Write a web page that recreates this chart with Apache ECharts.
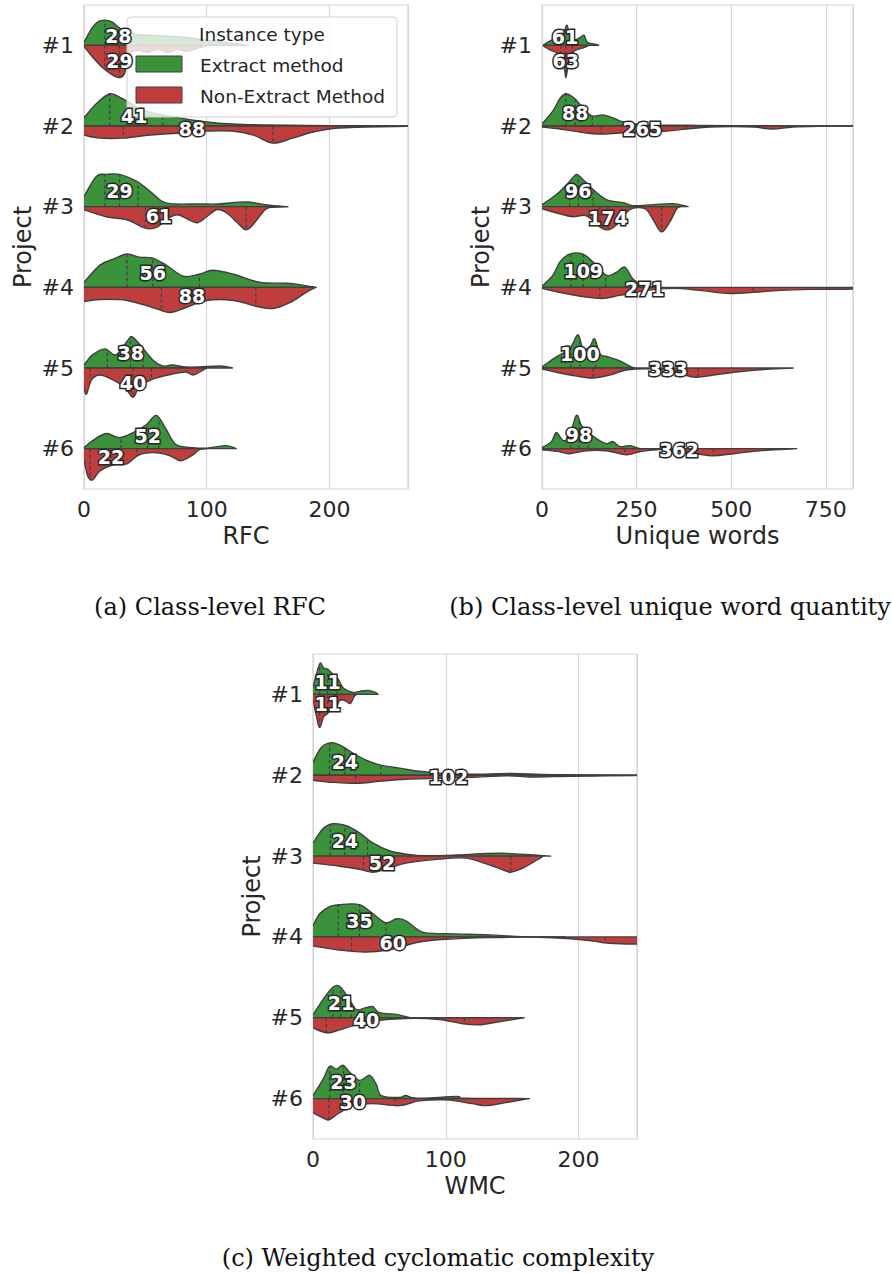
<!DOCTYPE html>
<html>
<head>
<meta charset="utf-8">
<script src="https://cdn.jsdelivr.net/npm/echarts@6/dist/echarts.min.js"></script>
<style>
  html, body { margin: 0; padding: 0; background: #ffffff; }
  #chart { width: 892px; height: 1274px; }
</style>
</head>
<body>
<div id="chart"></div>
<script>
// ---- data ---------------------------------------------------------------
const projects = ['#1', '#2', '#3', '#4', '#5', '#6'];
const instanceTypes = ['Extract method', 'Non-Extract Method'];

// Split-violin outlines: [metric value, half-width] pairs.
// Half-widths are expressed in 1/80ths of a category band.
const rfcExtractDensity = [
  [[0,3],[6,16],[11,23],[17,25],[23,23],[28,18],[34,13],[40,11],[55,10],[68,9],[81,8],[95,6],[114,3],[134,0]],
  [[0,8],[10,22],[21,32],[30,28],[40,21],[50,15],[64,11],[78,8],[100,4],[121,2],[149,1],[200,0.4],[280,0]],
  [[0,10],[10,30],[18,32],[29,32],[43,25],[54,15],[64,5],[73,2.7],[94,2.7],[110,2.7],[132,4.7],[149,1.7],[166,0]],
  [[0,5],[13,22],[24,28],[35,33],[45,30],[56,29],[67,22],[81,11],[94,13],[105,17],[122,13],[143,5],[165,4],[179,2],[189,0]],
  [[0,3],[7,13],[17,19],[26,13],[36,28],[39,31],[45,24],[56,8],[64,2],[72,3],[83,1],[94,1],[111,2],[121,0]],
  [[0,1],[7,8],[18,15],[29,11],[40,16],[51,24],[59,33],[67,19],[75,4],[89,1],[100,0.5],[116,3],[124,0]]
];
const rfcNonExtractDensity = [
  [[0,1],[8,13],[16,23],[24,30],[29,32],[33,28],[35,17],[38,7],[45,5],[52,7],[60,4],[68,7],[76,4],[84,6],[92,3],[100,0]],
  [[0,9],[13,12],[32,12],[54,9],[78,7],[100,5],[121,5],[138,9],[154,17],[170,12],[187,6],[203,2.5],[230,1],[280,0]],
  [[0,3],[18,10],[35,13],[47,20],[53,22],[60,20],[68,12],[76,8],[84,12],[92,16],[100,10],[108,3],[116,6],[125,16],[132,23],[139,16],[146,5],[151,1],[166,0]],
  [[0,14],[13,12],[35,13],[56,20],[70,25],[83,20],[100,13],[122,13],[141,19],[154,21],[168,15],[181,5],[189,0]],
  [[0,19],[2,26],[6,12],[13,7],[24,12],[33,19],[40,29],[45,19],[56,11],[72,6],[83,4],[89,7],[97,2],[100,0]],
  [[0,11],[3,27],[7,31],[13,22],[24,16],[35,15],[45,6],[59,4],[70,7],[79,12],[89,6],[94,1],[100,0]]
];
// [first quartile, median, third quartile]
const rfcExtractQuartiles = [[17,28,48],[21,41,64],[17,29,44],[35,56,94],[19,38,48],[30,52,61]];
const rfcNonExtractQuartiles = [[17,29,35],[32,88,154],[50,61,132],[63,88,140],[5,40,55],[5,22,43]];

const wordsExtractDensity = [
  [[2,0],[24,5],[41,7],[59,15],[66,20],[72,13],[85,6],[98,7],[111,10],[120,3],[146,0.7],[150,0]],
  [[0,2],[29,15],[47,27],[63,32],[87,27],[108,18],[133,10],[162,11],[188,8],[214,4],[267,1.3],[382,0.7],[505,0.3],[830,0]],
  [[0,2],[38,12],[73,25],[91,32],[108,27],[135,17],[170,7],[214,4],[241,1],[294,2],[347,3],[386,0]],
  [[0,1],[29,12],[47,25],[73,33],[108,33],[135,25],[170,12],[197,15],[219,20],[241,8],[267,2],[311,0]],
  [[0,1],[38,11],[73,19],[95,33],[108,19],[126,21],[139,29],[153,14],[175,11],[206,7],[236,1],[245,0]],
  [[0,1],[25,7],[38,16],[56,8],[73,13],[91,33],[104,23],[117,18],[144,10],[170,5],[188,7],[206,2],[232,3],[258,0]]
];
const wordsNonExtractDensity = [
  [[3,0.5],[24,5],[41,8],[54,17],[60,25],[63,32],[67,25],[72,14],[80,8],[88,5],[105,3],[120,0.7],[125,0]],
  [[0,1],[47,3],[100,6],[153,8],[205,7],[267,6],[329,5],[382,3],[444,1],[505,0.5],[560,1],[611,3],[664,1],[752,0.3],[830,0]],
  [[0,2],[47,7],[82,10],[117,9],[153,20],[175,23],[197,18],[232,3],[272,2],[294,13],[316,25],[338,15],[356,2],[365,0]],
  [[0,1],[73,7],[153,11],[205,8],[276,3],[347,1],[417,3],[488,6],[558,5],[629,3],[708,2],[823,1.7],[900,0]],
  [[0,1],[47,5],[91,8],[135,10],[179,7],[223,2],[276,0.7],[329,2],[400,9],[453,7],[514,4],[594,1.3],[664,0]],
  [[0,1],[47,3],[73,5],[117,2],[170,2],[223,6],[258,3],[303,1],[356,2],[408,5],[453,7],[506,5],[576,2],[673,0]]
];
const wordsExtractQuartiles = [[50,61,85],[63,88,133],[73,96,135],[76,109,168],[76,100,142],[76,98,122]];
const wordsNonExtractQuartiles = [[50,63,80],[157,265,382],[153,174,316],[153,271,558],[135,333,413],[219,362,453]];

const wmcExtractDensity = [
  [[0,7],[3,22],[5.5,31],[8,26],[11,25],[15,20],[19,15],[23,6],[30,2],[35,3],[41,4],[47,2],[49,0]],
  [[0,13],[6,27],[12.5,32],[20,30],[30,22],[40,15],[51,10],[65,7],[80,4],[95,2],[120,1],[150,1.7],[183,0.5],[260,0]],
  [[0,13],[7.5,27],[15,32],[25,30],[35,23],[45,13],[58,5],[70,2],[85,0.3],[108,1],[126,2.3],[146,2.7],[166,1],[179,0]],
  [[0,11],[5,23],[12.5,30],[20,32],[35,32],[45,23],[55,14],[63,18],[70,16],[78,8],[85,4],[108,3],[133,2],[158,0.3],[190,0]],
  [[0,3],[7.5,18],[14,29],[17.6,32],[21,30],[27.6,18],[32.6,8],[40,10],[45,11],[50,5],[63,3.3],[70,1],[73,0]],
  [[0,3],[7.5,19],[12.5,32],[17.6,29],[22.6,33],[27.6,26],[35,18],[42.7,23],[47.7,14],[51.4,3],[65,1],[70,3],[78,0.3],[108,2],[115,0.3],[163,0]]
];
const wmcNonExtractDensity = [
  [[0,5],[2,18],[4,30],[5.5,32],[8,22],[11,19],[14,13],[17,15],[20,6],[24,6],[28,9],[31,2],[33,0]],
  [[0,5],[15,7],[33,8],[50,6],[70,4],[95,3],[120,2],[146,0.5],[163,1.7],[181,1.3],[196,1],[250,0.3],[260,0]],
  [[0,7],[20,10],[35,13],[45,16],[55,13],[70,7],[95,3],[115,2],[131,8],[146,15],[149,16],[158,12],[171,2],[173,0]],
  [[0,9],[20,13],[40,15],[60,12],[80,5],[100,2.3],[133,0.7],[170,0.3],[196,2],[211,4],[221,6],[244,7],[260,5]],
  [[0,10],[10.5,15],[20,12],[32.6,7],[45,3.3],[70,0.7],[95,1.7],[113,6],[125,7],[140,4],[159,0]],
  [[0,14],[7.5,19],[12,21],[20,14],[30,7],[45,5],[65,7],[80,2.3],[100,1.3],[120,5],[130,7],[145,4],[162,0]]
];
const wmcExtractQuartiles = [[5,11,18],[12.5,24,51],[13,24,41],[19,35,55],[15,21,29],[12.5,23,35]];
const wmcNonExtractQuartiles = [[5,11,17],[32,102,181],[38,52,149],[29,60,220],[10,40,114],[12,30,62]];

// x-axis ranges and tick steps, one per panel
const axisNames = ['RFC', 'Unique words', 'WMC'];
const axisMax = [264, 822, 244];
const axisStep = [100, 250, 100];
const captions = ['(a) Class-level RFC', '(b) Class-level unique word quantity', '(c) Weighted cyclomatic complexity'];

// ---- styling ------------------------------------------------------------
const colors = ['#3a923a', '#c03d3e'];
const edgeColor = '#3f3f3f';
const inkColor = '#262626';
const gridColor = '#d6d6d6';
const sans = '"DejaVu Sans", Verdana, sans-serif';
const serif = '"DejaVu Serif", Georgia, serif';

const panels = [
  { extract: rfcExtractDensity, nonExtract: rfcNonExtractDensity, qe: rfcExtractQuartiles, qn: rfcNonExtractQuartiles },
  { extract: wordsExtractDensity, nonExtract: wordsNonExtractDensity, qe: wordsExtractQuartiles, qn: wordsNonExtractQuartiles },
  { extract: wmcExtractDensity, nonExtract: wmcNonExtractDensity, qe: wmcExtractQuartiles, qn: wmcNonExtractQuartiles }
];
const grids = [
  { left: 84, top: 5, width: 324, height: 484 },
  { left: 542, top: 5, width: 311, height: 484 },
  { left: 313, top: 654, width: 324, height: 485 }
];

// ---- helpers ------------------------------------------------------------
const f = n => n.toFixed(2);

function densityAt(curve, v) {
  if (v <= curve[0][0]) return curve[0][1];
  for (let i = 1; i < curve.length; i++) {
    if (v <= curve[i][0]) {
      const [x0, y0] = curve[i - 1], [x1, y1] = curve[i];
      return y0 + (y1 - y0) * (v - x0) / (x1 - x0);
    }
  }
  return 0;
}

// Cubic (Catmull-Rom) segments through the outline points, kept on one side of the centre line
function smoothSegments(pts, yc, dir) {
  const lim = y => (dir < 0 ? Math.min(y, yc) : Math.max(y, yc));
  let d = '';
  for (let i = 0; i < pts.length - 1; i++) {
    const p0 = pts[Math.max(i - 1, 0)], p1 = pts[i], p2 = pts[i + 1], p3 = pts[Math.min(i + 2, pts.length - 1)];
    const c1x = p1[0] + (p2[0] - p0[0]) / 6, c1y = lim(p1[1] + (p2[1] - p0[1]) / 6);
    const c2x = p2[0] - (p3[0] - p1[0]) / 6, c2y = lim(p2[1] - (p3[1] - p1[1]) / 6);
    d += ` C${f(c1x)},${f(c1y)} ${f(c2x)},${f(c2y)} ${f(p2[0])},${f(p2[1])}`;
  }
  return d;
}

function halfViolin(api, idx, curve, quarts, dir, color) {
  const unit = api.size([0, 1])[1] / 80;
  const yc = api.coord([0, idx])[1];
  const pts = curve.map(([v, w]) => [api.coord([v, idx])[0], yc + dir * w * unit]);
  const a = pts[0], b = pts[pts.length - 1];
  const body = smoothSegments(pts, yc, dir);
  const out = [
    { type: 'path',
      shape: { pathData: `M${f(a[0])},${f(yc)} L${f(a[0])},${f(a[1])}${body} L${f(b[0])},${f(yc)} Z` },
      style: { fill: color, stroke: 'none' } },
    { type: 'path',
      shape: { pathData: `M${f(a[0])},${f(a[1])}${body} L${f(b[0])},${f(yc)} L${f(a[0])},${f(yc)}` },
      style: { fill: 'none', stroke: edgeColor, lineWidth: 1.4, lineJoin: 'round' } }
  ];
  quarts.forEach(q => {
    const x = api.coord([q, idx])[0];
    const h = densityAt(curve, q) * unit;
    out.push({ type: 'line', shape: { x1: x, y1: yc, x2: x, y2: yc + dir * h },
      style: { stroke: edgeColor, lineWidth: 1.2, lineDash: [3.5, 2.5] } });
  });
  return out;
}

// ---- series -------------------------------------------------------------
const series = [];
panels.forEach((p, pi) => {
  const data = projects.map((_, i) => [p.qe[i][1], i]);
  series.push({
    type: 'custom', name: 'violins', xAxisIndex: pi, yAxisIndex: pi, z: 2, clip: true,
    data,
    renderItem: (params, api) => {
      const i = params.dataIndex;
      return { type: 'group', children: [
        ...halfViolin(api, i, p.extract[i], p.qe[i], -1, colors[0]),
        ...halfViolin(api, i, p.nonExtract[i], p.qn[i], 1, colors[1])
      ] };
    }
  });
  series.push({
    type: 'custom', name: 'medians', xAxisIndex: pi, yAxisIndex: pi, z: 100,
    data,
    renderItem: (params, api) => {
      const i = params.dataIndex;
      const unit = api.size([0, 1])[1] / 80;
      const yc = api.coord([0, i])[1];
      const halves = [[p.extract[i], p.qe[i][1], -1], [p.nonExtract[i], p.qn[i][1], 1]];
      return { type: 'group', children: halves.map(([curve, med, dir]) => ({
        type: 'text',
        x: api.coord([med, i])[0],
        y: yc + dir * densityAt(curve, med) * unit / 2,
        style: { text: String(med), fill: '#ffffff', stroke: inkColor, lineWidth: 3,
          font: `bold 19px ${sans}`, lineHeight: 18, align: 'center', verticalAlign: 'middle' }
      })) };
    }
  });
});

// ---- legend and captions ------------------------------------------------
const graphic = [
  { type: 'rect', z: 50, shape: { x: 127, y: 17, width: 270, height: 100, r: 4 },
    style: { fill: 'rgba(255,255,255,0.8)', stroke: '#d0d0d0', lineWidth: 1 } },
  { type: 'text', z: 51, x: 262, y: 34,
    style: { text: 'Instance type', fill: inkColor, font: `18.5px ${sans}`, align: 'center', verticalAlign: 'middle' } }
];
instanceTypes.forEach((name, k) => {
  graphic.push({ type: 'rect', z: 51, shape: { x: 136, y: 56 + k * 31, width: 46, height: 16 },
    style: { fill: colors[k], stroke: edgeColor, lineWidth: 1 } });
  graphic.push({ type: 'text', z: 51, x: 200, y: 65 + k * 31,
    style: { text: name, fill: inkColor, font: `18.5px ${sans}`, align: 'left', verticalAlign: 'middle' } });
});
const captionPos = [[210, 607], [670, 607], [438, 1258]];
captions.forEach((c, k) => {
  graphic.push({ type: 'text', z: 51, x: captionPos[k][0], y: captionPos[k][1],
    style: { text: c, fill: '#111111', font: `24px ${serif}`, align: 'center', verticalAlign: 'middle' } });
});

// ---- chart --------------------------------------------------------------
const chart = echarts.init(document.getElementById('chart'), null, { renderer: 'svg', width: 892, height: 1274 });
chart.setOption({
  animation: false,
  backgroundColor: '#ffffff',
  grid: grids.map(g => ({ ...g, show: true, borderColor: gridColor, borderWidth: 1.2, backgroundColor: 'transparent', containLabel: false })),
  xAxis: grids.map((_, i) => ({
    type: 'value', gridIndex: i, min: 0, max: axisMax[i], interval: axisStep[i],
    name: axisNames[i], nameLocation: 'middle', nameGap: 35,
    nameTextStyle: { fontSize: 24, color: inkColor, fontFamily: sans },
    axisLine: { show: false }, axisTick: { show: false },
    axisLabel: { fontSize: 22, color: inkColor, fontFamily: sans, margin: 9, showMaxLabel: false },
    splitLine: { show: true, lineStyle: { color: gridColor, width: 1.2 } }
  })),
  yAxis: grids.map((_, i) => ({
    type: 'category', gridIndex: i, data: projects, inverse: true,
    name: 'Project', nameLocation: 'middle', nameRotate: 90, nameGap: 49,
    nameTextStyle: { fontSize: 24, color: inkColor, fontFamily: sans },
    axisLine: { show: false }, axisTick: { show: false },
    axisLabel: { fontSize: 22, color: inkColor, fontFamily: sans, margin: 10 },
    splitLine: { show: false }
  })),
  series,
  graphic
});
</script>
</body>
</html>
